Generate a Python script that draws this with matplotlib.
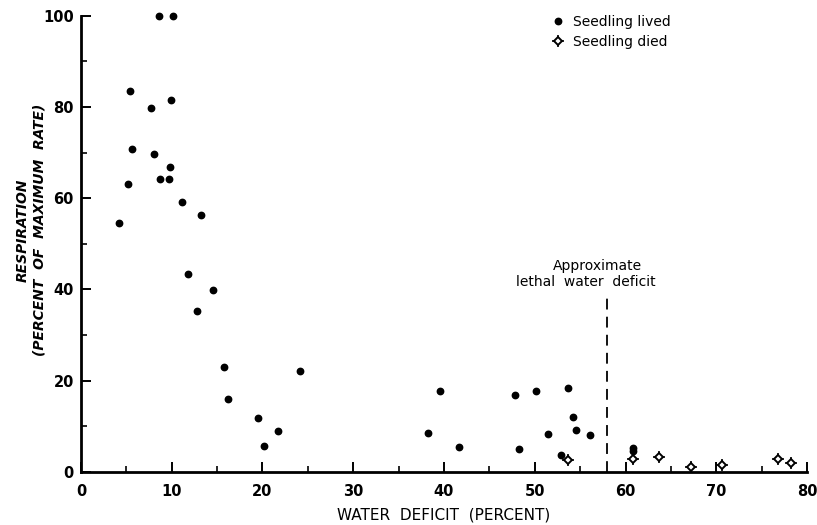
import matplotlib
matplotlib.use("Agg")
import matplotlib.pyplot as plt
from matplotlib.lines import Line2D
from matplotlib.legend_handler import HandlerTuple

plt.rcParams['font.family'] = ['DejaVu Sans']

# Seedling lived (filled dots)
lived_x = [8.6, 10.2, 5.4, 9.9, 7.7, 5.6, 8.1, 9.8, 5.2, 8.7, 9.7, 11.1, 13.2, 4.2,
           11.8, 14.5, 12.8, 15.8, 24.1, 16.2, 19.5, 21.7, 20.2,
           39.5, 38.2, 41.6, 47.8, 50.1, 48.3, 53.7, 54.2, 51.5, 54.5, 56.1, 52.9,
           60.8, 60.8]
lived_y = [100, 100, 83.5, 81.6, 79.7, 70.7, 69.8, 66.8, 63.2, 64.3, 64.3, 59.2, 56.4, 54.5,
           43.5, 39.9, 35.3, 23.0, 22.1, 16.1, 11.9, 9.0, 5.6,
           17.7, 8.5, 5.5, 16.8, 17.7, 5.0, 18.4, 12.1, 8.3, 9.1, 8.0, 3.7,
           5.3, 4.6]

# Seedling died (open diamonds)
died_x = [53.6, 60.8, 63.7, 67.2, 70.6, 76.8, 78.2]
died_y = [2.6, 2.8, 3.2, 1.0, 1.5, 2.9, 1.9]

# Approximate lethal water deficit
lethal_x = 58
lethal_top = 39

x_major = [0, 10, 20, 30, 40, 50, 60, 70, 80]
x_minor = [5, 15, 25, 35, 45, 55, 65, 75]
y_major = [0, 20, 40, 60, 80, 100]
y_minor = [10, 30, 50, 70, 90]

fig = plt.figure(figsize=(8.17, 5.25), dpi=100)
ax = fig.add_axes([0.099, 0.101, 0.889, 0.869])

ax.plot(lived_x, lived_y, 'o', color='black', markersize=4.6, clip_on=False, zorder=3)
ax.plot(died_x, died_y, '+', color='black', markersize=8, markeredgewidth=1.2,
        clip_on=False, zorder=3)
ax.plot(died_x, died_y, 'D', markerfacecolor='white', markeredgecolor='black',
        markersize=4.2, markeredgewidth=1.4, clip_on=False, zorder=4)

ax.plot([lethal_x, lethal_x], [0, lethal_top], color='black', linestyle=(0, (6, 4)),
        linewidth=1.3)
ax.text(56.9, 45.1, 'Approximate', ha='center', va='center', fontsize=10)
ax.text(55.6, 41.6, 'lethal  water  deficit', ha='center', va='center', fontsize=10)

ax.set_xlim(0, 80)
ax.set_ylim(0, 100)
for s in ['top', 'right']:
    ax.spines[s].set_visible(False)
for s in ['left', 'bottom']:
    ax.spines[s].set_linewidth(2.0)

ax.set_xticks(x_major)
ax.set_xticks(x_minor, minor=True)
ax.set_yticks(y_major)
ax.set_yticks(y_minor, minor=True)
ax.tick_params(which='major', direction='in', length=7, width=1.4, labelsize=10.5)
ax.tick_params(axis='x', which='major', pad=9)
ax.tick_params(axis='y', which='major', pad=5)
ax.tick_params(which='minor', direction='in', length=4, width=1.2)
for lab in ax.get_xticklabels() + ax.get_yticklabels():
    lab.set_fontweight('bold')

ax.set_xlabel('WATER  DEFICIT  (PERCENT)', fontsize=11)
ax.xaxis.set_label_coords(0.5, -0.078)
ax.set_ylabel('RESPIRATION\n(PERCENT  OF  MAXIMUM  RATE)', fontsize=10,
              fontstyle='italic', fontweight='bold', linespacing=1.2)
ax.yaxis.set_label_coords(-0.048, 0.53)

h_lived = Line2D([], [], marker='o', color='black', linestyle='none', markersize=4.6)
h_died_p = Line2D([], [], marker='+', color='black', linestyle='none', markersize=8,
                  markeredgewidth=1.2)
h_died_d = Line2D([], [], marker='D', markerfacecolor='white', markeredgecolor='black',
                  linestyle='none', markersize=4.2, markeredgewidth=1.4)
ax.legend([h_lived, (h_died_p, h_died_d)], ['Seedling lived', 'Seedling died'],
          handler_map={tuple: HandlerTuple(ndivide=1, pad=0)},
          loc='upper left', bbox_to_anchor=(0.63, 1.03), frameon=False,
          handlelength=1.0, handletextpad=0.6, labelspacing=0.45,
          prop={'size': 10})

fig.savefig('out.png', dpi=100)
